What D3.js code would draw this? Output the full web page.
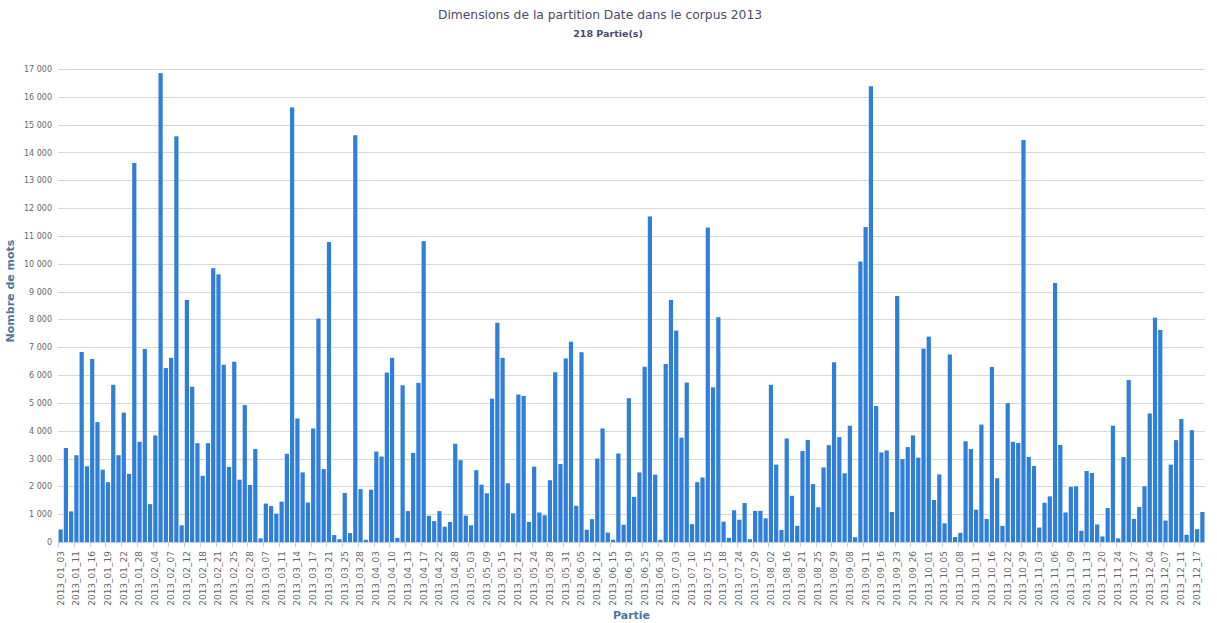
<!DOCTYPE html>
<html><head><meta charset="utf-8">
<script src="https://cdn.jsdelivr.net/npm/d3@7"></script>
<style>
body{margin:0;background:#fff;}
svg{display:block;font-family:"DejaVu Sans",sans-serif;}
</style></head>
<body><svg id="chart" width="1217" height="623"></svg>
<script>
const title = "Dimensions de la partition Date dans le corpus 2013";
const subtitle = "218 Partie(s)";
const yTitle = "Nombre de mots";
const xTitle = "Partie";
// labels shown on the axis (every 3rd part)
const tickLabels = ["2013_01_03","2013_01_11","2013_01_16","2013_01_19","2013_01_22","2013_01_28","2013_02_04","2013_02_07","2013_02_12","2013_02_18","2013_02_21","2013_02_25","2013_02_28","2013_03_07","2013_03_11","2013_03_14","2013_03_17","2013_03_21","2013_03_25","2013_03_28","2013_04_03","2013_04_10","2013_04_13","2013_04_17","2013_04_22","2013_04_28","2013_05_03","2013_05_09","2013_05_15","2013_05_21","2013_05_24","2013_05_28","2013_05_31","2013_06_05","2013_06_12","2013_06_15","2013_06_19","2013_06_25","2013_06_30","2013_07_03","2013_07_10","2013_07_15","2013_07_18","2013_07_24","2013_07_29","2013_08_02","2013_08_16","2013_08_21","2013_08_25","2013_08_29","2013_09_08","2013_09_11","2013_09_16","2013_09_23","2013_09_26","2013_10_01","2013_10_05","2013_10_08","2013_10_11","2013_10_16","2013_10_22","2013_10_29","2013_11_03","2013_11_06","2013_11_09","2013_11_13","2013_11_20","2013_11_24","2013_11_27","2013_12_04","2013_12_07","2013_12_11","2013_12_17"];
const values = [450,3380,1100,3120,6830,2720,6580,4310,2600,2150,5650,3120,4650,2450,13620,3600,6940,1360,3830,16850,
6250,6620,14580,600,8700,5580,3550,2380,3550,9840,9620,6370,2700,6480,2240,4920,2050,3340,130,1380,
1290,1020,1450,3170,15620,4440,2500,1420,4080,8030,2620,10780,250,100,1760,320,14620,1900,80,1880,
3250,3070,6090,6620,150,5630,1110,3200,5720,10810,940,750,1110,550,720,3530,2940,950,600,2580,
2060,1750,5150,7880,6620,2110,1030,5300,5250,720,2710,1060,960,2220,6100,2800,6600,7200,1300,6820,
440,820,3000,4080,340,80,3180,620,5170,1620,2500,6300,11700,2420,80,6400,8700,7600,3750,5730,
640,2150,2320,11300,5560,8080,730,150,1140,800,1400,100,1120,1120,850,5650,2780,430,3720,1660,
580,3270,3670,2080,1250,2680,3480,6460,3770,2470,4180,170,10080,11320,16380,4890,3220,3290,1080,8840,
2980,3410,3830,3030,6950,7380,1510,2430,670,6740,180,330,3620,3340,1160,4220,830,6290,2290,580,
4990,3600,3560,14450,3060,2730,520,1410,1640,9310,3490,1060,1980,2000,400,2550,2480,630,200,1220,
4180,130,3050,5820,830,1260,2000,4620,8060,7620,770,2780,3660,4420,260,4020,460,1080];
const yTicks = d3.range(0, 17001, 1000);

const svg = d3.select("#chart");
const m = {left:58, right:1205, top:69, bottom:542};
const idx = values.map((d,i)=>i);
const x = d3.scaleBand().domain(idx).range([m.left, m.right]).paddingInner(0.2).paddingOuter(0.1);
const y = d3.scaleLinear().domain([0,17000]).range([m.bottom, m.top]);

// titles
svg.append("text").attr("x",600).attr("y",19).attr("text-anchor","middle")
  .attr("fill","#4a4a6e").attr("font-size","12.3px").text(title);
svg.append("text").attr("x",608).attr("y",37).attr("text-anchor","middle")
  .attr("fill","#4a4a6e").attr("font-size","9.5px").attr("font-weight","600").text(subtitle);

// grid + y axis
const yAxis = d3.axisLeft(y).tickValues(yTicks).tickSize(-(m.right-m.left)).tickPadding(6)
  .tickFormat(d=>d3.format(",")(d).replace(/,/g," "));
const gy = svg.append("g").attr("transform",`translate(${m.left},0)`).call(yAxis);
gy.select(".domain").remove();
gy.selectAll(".tick line").attr("stroke","#d8d8d8").attr("shape-rendering","crispEdges");
gy.selectAll(".tick text").attr("fill","#666").attr("font-size","8px").attr("font-family","DejaVu Sans, sans-serif");

// bars
svg.append("g").selectAll("rect").data(values).join("rect")
  .attr("x",(d,i)=>x(i)).attr("width",x.bandwidth())
  .attr("y",d=>y(d)).attr("height",d=>y(0)-y(d))
  .attr("fill","#2f7ed8");

// x axis
const gx = svg.append("g").attr("transform",`translate(0,${m.bottom})`);
gx.append("line").attr("x1",m.left).attr("x2",m.right).attr("y1",0.5).attr("y2",0.5).attr("stroke","#c0d0e0");
const xAxis = d3.axisBottom(x).tickValues(idx.filter(i=>i%3===0)).tickSize(0).tickPadding(0)
  .tickFormat(i=>tickLabels[i/3]);
const gxa = gx.append("g").call(xAxis);
gxa.select(".domain").remove();
gxa.selectAll(".tick text").attr("fill","#666").attr("font-size","9px")
  .attr("font-family","DejaVu Sans, sans-serif")
  .attr("transform","rotate(-90)").attr("text-anchor","end").attr("dy","0.32em").attr("x",-9).attr("y",0);
// tick marks at category boundaries
gx.selectAll("line.tk").data(idx.filter(i=>i%3===0)).join("line").attr("class","tk")
  .attr("x1",i=>Math.round(x(i)-x.step()*0.2/2)+0.5).attr("x2",i=>Math.round(x(i)-x.step()*0.2/2)+0.5)
  .attr("y1",0).attr("y2",5).attr("stroke","#c0d0e0");

// axis titles
svg.append("text").attr("transform",`translate(14,291) rotate(-90)`)
  .attr("text-anchor","middle").attr("fill","#4d759e").attr("font-weight","bold").attr("font-size","11px").text(yTitle);
svg.append("text").attr("x",(m.left+m.right)/2).attr("y",619).attr("text-anchor","middle")
  .attr("fill","#4d759e").attr("font-weight","bold").attr("font-size","11px").text(xTitle);
</script></body></html>
